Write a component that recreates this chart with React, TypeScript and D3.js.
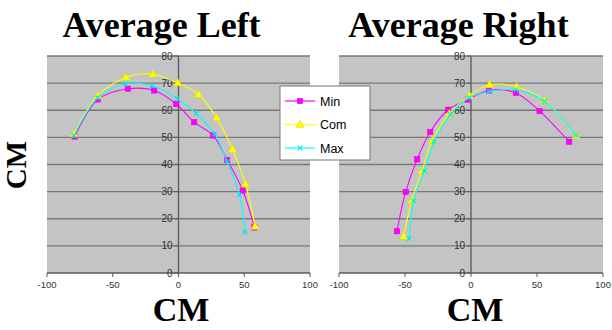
import React from 'react';
import * as d3 from 'd3';

// tick values
const xTicks = [-100, -50, 0, 50, 100];
const yTicks = [0, 10, 20, 30, 40, 50, 60, 70, 80];

const seriesNames = ['Min', 'Com', 'Max'];
const seriesColors = ['#ff00ff', '#ffff00', '#00ffff'];

// Average Left (x, y in CM)
const leftMin: [number, number][] = [
    [-79, 50.3], [-61.3, 64], [-38.5, 67.9], [-18.5, 67.3], [-1.7, 62.3],
    [11.9, 55.6], [26.3, 50.7], [37, 41.7], [48.9, 30.4], [57.7, 16.8],
];
const leftCom: [number, number][] = [
    [-79.5, 51.3], [-61.3, 65.4], [-40, 72.1], [-19.5, 73.3], [-0.5, 70.1],
    [15.2, 65.8], [29.1, 57.2], [41, 45.6], [50.9, 32.8], [58.2, 17.2],
];
const leftMax: [number, number][] = [
    [-79.5, 50.6], [-61.5, 64.6], [-40, 69.8], [-20, 69], [-1, 64.3],
    [13.5, 58.8], [27.5, 51.2], [37, 41], [46.3, 28.8], [50.6, 15.1],
];

// Average Right
const rightMin: [number, number][] = [
    [-56.1, 15.4], [-49.5, 29.9], [-40.8, 41.9], [-30.9, 52], [-17.4, 60.2],
    [-2.4, 63.9], [13.6, 67.3], [34, 66.4], [52, 59.7], [74.4, 48.4],
];
const rightCom: [number, number][] = [
    [-51, 13.6], [-44.9, 26.6], [-37.2, 37.5], [-29.2, 48.9], [-16.4, 58.7],
    [-1.1, 65.4], [14.1, 69.4], [34.5, 68.6], [55.6, 63.6], [79.5, 50.6],
];
const rightMax: [number, number][] = [
    [-47, 12.7], [-43.5, 26.5], [-35.5, 37.5], [-28, 48.5], [-15.5, 58.5],
    [-1.5, 64.6], [14, 66.9], [34, 67.6], [55.5, 63.3], [79.5, 50.8],
];

const yRange: [number, number] = [273, 56];

const Marker = ({ kind, x, y }: { kind: number; x: number; y: number }) => {
    if (kind === 0) {
        return <rect x={x - 2.7} y={y - 2.7} width={5.4} height={5.4} fill="#ff00ff" stroke="#e000e0" strokeWidth={0.5} />;
    }
    if (kind === 1) {
        const tri = d3.symbol(d3.symbolTriangle, 30)();
        return <path d={tri || ''} transform={`translate(${x},${y + 0.5})`} fill="#ffff00" stroke="#d8d800" strokeWidth={0.5} />;
    }
    return (
        <g stroke="#00e8e8" strokeWidth={1.2}>
            <line x1={x - 2.3} y1={y - 2.3} x2={x + 2.3} y2={y + 2.3} />
            <line x1={x - 2.3} y1={y + 2.3} x2={x + 2.3} y2={y - 2.3} />
        </g>
    );
};

const Panel = ({ title, xRange, series, titleX, labelX }: {
    title: string; xRange: [number, number]; series: [number, number][][]; titleX: number; labelX: number;
}) => {
    const x = d3.scaleLinear().domain([-100, 100]).range(xRange);
    const y = d3.scaleLinear().domain([0, 80]).range(yRange);
    const line = d3.line<[number, number]>()
        .x(d => x(d[0]))
        .y(d => y(d[1]))
        .curve(d3.curveCatmullRom.alpha(0.5));

    return (
        <g>
            <text x={titleX} y={37} textAnchor="middle" fontFamily="Liberation Serif, serif"
                fontWeight="bold" fontSize={36}>{title}</text>
            <rect x={xRange[0]} y={yRange[1]} width={xRange[1] - xRange[0]} height={yRange[0] - yRange[1]} fill="#c4c4c4" />
            {yTicks.filter(t => t > 0).map(t => (
                <line key={t} x1={xRange[0]} x2={xRange[1]} y1={y(t)} y2={y(t)} stroke="#787878" strokeWidth={1.3} />
            ))}
            {/* axes */}
            <line x1={x(0)} x2={x(0)} y1={yRange[1]} y2={yRange[0]} stroke="#5a5a5a" strokeWidth={1.3} />
            <line x1={xRange[0]} x2={xRange[1]} y1={yRange[0]} y2={yRange[0]} stroke="#5a5a5a" strokeWidth={1.3} />
            {yTicks.map(t => (
                <g key={t}>
                    <line x1={x(0) - 4} x2={x(0)} y1={y(t)} y2={y(t)} stroke="#5a5a5a" />
                    <text x={x(0) - 6} y={y(t)} dy="0.35em" textAnchor="end" fontFamily="Liberation Sans, Arial, sans-serif"
                        fontSize={10} fill="#333">{t}</text>
                </g>
            ))}
            {xTicks.map(t => (
                <g key={t}>
                    <line x1={x(t)} x2={x(t)} y1={yRange[0]} y2={yRange[0] + 4} stroke="#5a5a5a" />
                    <text x={x(t)} y={288} textAnchor="middle" fontFamily="Liberation Sans, Arial, sans-serif"
                        fontSize={9.5} fill="#333">{t}</text>
                </g>
            ))}
            {series.map((s, i) => (
                <g key={i}>
                    <path d={line(s) || ''} fill="none" stroke={seriesColors[i]} strokeWidth={1.1} />
                    {s.map((d, j) => <Marker key={j} kind={i} x={x(d[0])} y={y(d[1])} />)}
                </g>
            ))}
            <text x={labelX} y={321} textAnchor="middle" fontFamily="Liberation Serif, serif"
                fontWeight="bold" fontSize={34}>CM</text>
        </g>
    );
};

const App = () => {
    const width = 612;
    const height = 330;
    const legendRows = [101, 124.5, 148];

    return (
        <svg width={width} height={height} style={{ position: 'absolute', left: 0, top: 0, background: '#fff' }}>
            <Panel title="Average Left" xRange={[47, 310]} series={[leftMin, leftCom, leftMax]} titleX={161.5} labelX={181} />
            <Panel title="Average Right" xRange={[339, 603]} series={[rightMin, rightCom, rightMax]} titleX={458.5} labelX={475} />
            <text transform="translate(26,165) rotate(-90)" textAnchor="middle" fontFamily="Liberation Serif, serif"
                fontWeight="bold" fontSize={29}>CM</text>
            <g>
                <rect x={280} y={86} width={90} height={74} fill="#fff" stroke="#777" strokeWidth={1} />
                {seriesNames.map((name, i) => (
                    <g key={name}>
                        <line x1={285} x2={315} y1={legendRows[i]} y2={legendRows[i]} stroke={seriesColors[i]} strokeWidth={1.2} />
                        <Marker kind={i} x={300} y={legendRows[i]} />
                        <text x={320} y={legendRows[i]} dy="0.36em" fontFamily="Liberation Sans, Arial, sans-serif"
                            fontSize={12.5}>{name}</text>
                    </g>
                ))}
            </g>
        </svg>
    );
};

export default App;
